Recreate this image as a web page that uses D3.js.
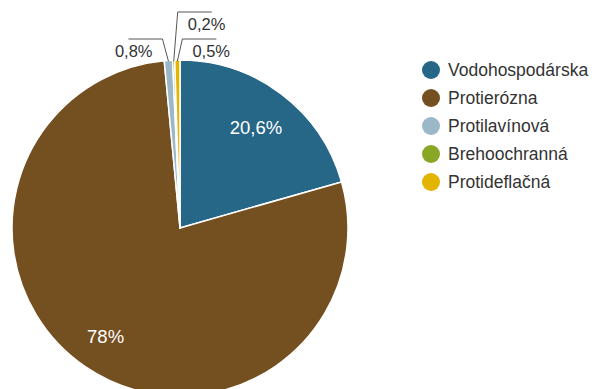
<!DOCTYPE html>
<html>
<head>
<meta charset="utf-8">
<script src="https://cdn.jsdelivr.net/npm/d3@7"></script>
<style>
  html, body { margin: 0; padding: 0; background: #fff; }
  svg { display: block; font-family: "Liberation Sans", Arial, sans-serif; }
</style>
</head>
<body>
<svg id="chart" width="596" height="389"></svg>
<script>
const categories = ["Vodohospodárska", "Protierózna", "Protilavínová", "Brehoochranná", "Protideflačná"];
const values = [20.6, 78, 0.8, 0.2, 0.5];
const valueLabels = ["20,6%", "78%", "0,8%", "0,2%", "0,5%"];
const colors = ["#266788", "#744f1f", "#9ab8c8", "#8aa625", "#e3b500"];

const svg = d3.select("#chart");
const cx = 180, cy = 228, R = 168;

const data = categories.map((c, i) => ({ name: c, value: values[i], label: valueLabels[i], color: colors[i] }));

const pie = d3.pie().sort(null).value(d => d.value).startAngle(0).endAngle(2 * Math.PI);
const arcs = pie(data);
const arc = d3.arc().innerRadius(0).outerRadius(R);

const g = svg.append("g").attr("transform", `translate(${cx},${cy})`);

g.selectAll("path.slice")
  .data(arcs)
  .join("path")
  .attr("class", "slice")
  .attr("d", arc)
  .attr("fill", d => d.data.color)
  .attr("stroke", "#fff")
  .attr("stroke-width", 1.5)
  .attr("stroke-linejoin", "round");

// inside labels for large slices
const big = arcs.filter(d => (d.endAngle - d.startAngle) > 0.3);
const inR = [R * 0.75, R * 0.785];
g.selectAll("text.inlabel")
  .data(big)
  .join("text")
  .attr("class", "inlabel")
  .attr("transform", (d, i) => {
    const mid = (d.startAngle + d.endAngle) / 2;
    const rr = inR[i];
    return `translate(${Math.sin(mid) * rr},${-Math.cos(mid) * rr})`;
  })
  .attr("text-anchor", "middle")
  .attr("dy", "0.35em")
  .attr("fill", "#fff")
  .attr("font-size", 18.5)
  .text(d => d.data.label);

// outside labels for small slices with leader lines
const small = arcs.filter(d => (d.endAngle - d.startAngle) <= 0.3);
const layout = [
  { dir: -1, lift: 21, shift: -6 },
  { dir: 1, lift: 48, shift: 4 },
  { dir: 1, lift: 21, shift: 5 }
];
small.forEach((d, i) => {
  const L = layout[i];
  const mid = (d.startAngle + d.endAngle) / 2;
  const sx = Math.sin(mid) * (R - 1), sy = -Math.cos(mid) * (R - 1);
  const ex = sx + L.shift, ey = -R - L.lift;
  const hx = ex + L.dir * 34;
  g.append("path")
    .attr("d", `M${sx},${sy}L${ex},${ey}L${hx},${ey}`)
    .attr("fill", "none")
    .attr("stroke", "#555")
    .attr("stroke-width", 1);
  g.append("text")
    .attr("x", ex + L.dir * 10)
    .attr("y", ey + 18)
    .attr("text-anchor", L.dir < 0 ? "end" : "start")
    .attr("fill", "#333")
    .attr("font-size", 16.5)
    .text(d.data.label);
});

// legend
const legend = svg.append("g").attr("transform", "translate(431,70)");
const rows = legend.selectAll("g.row")
  .data(data)
  .join("g")
  .attr("class", "row")
  .attr("transform", (d, i) => `translate(0,${i * 28})`);
rows.append("circle").attr("r", 9).attr("fill", d => d.color);
rows.append("text")
  .attr("x", 17)
  .attr("dy", "0.35em")
  .attr("fill", "#333")
  .attr("font-size", 17.5)
  .text(d => d.name);
</script>
</body>
</html>
